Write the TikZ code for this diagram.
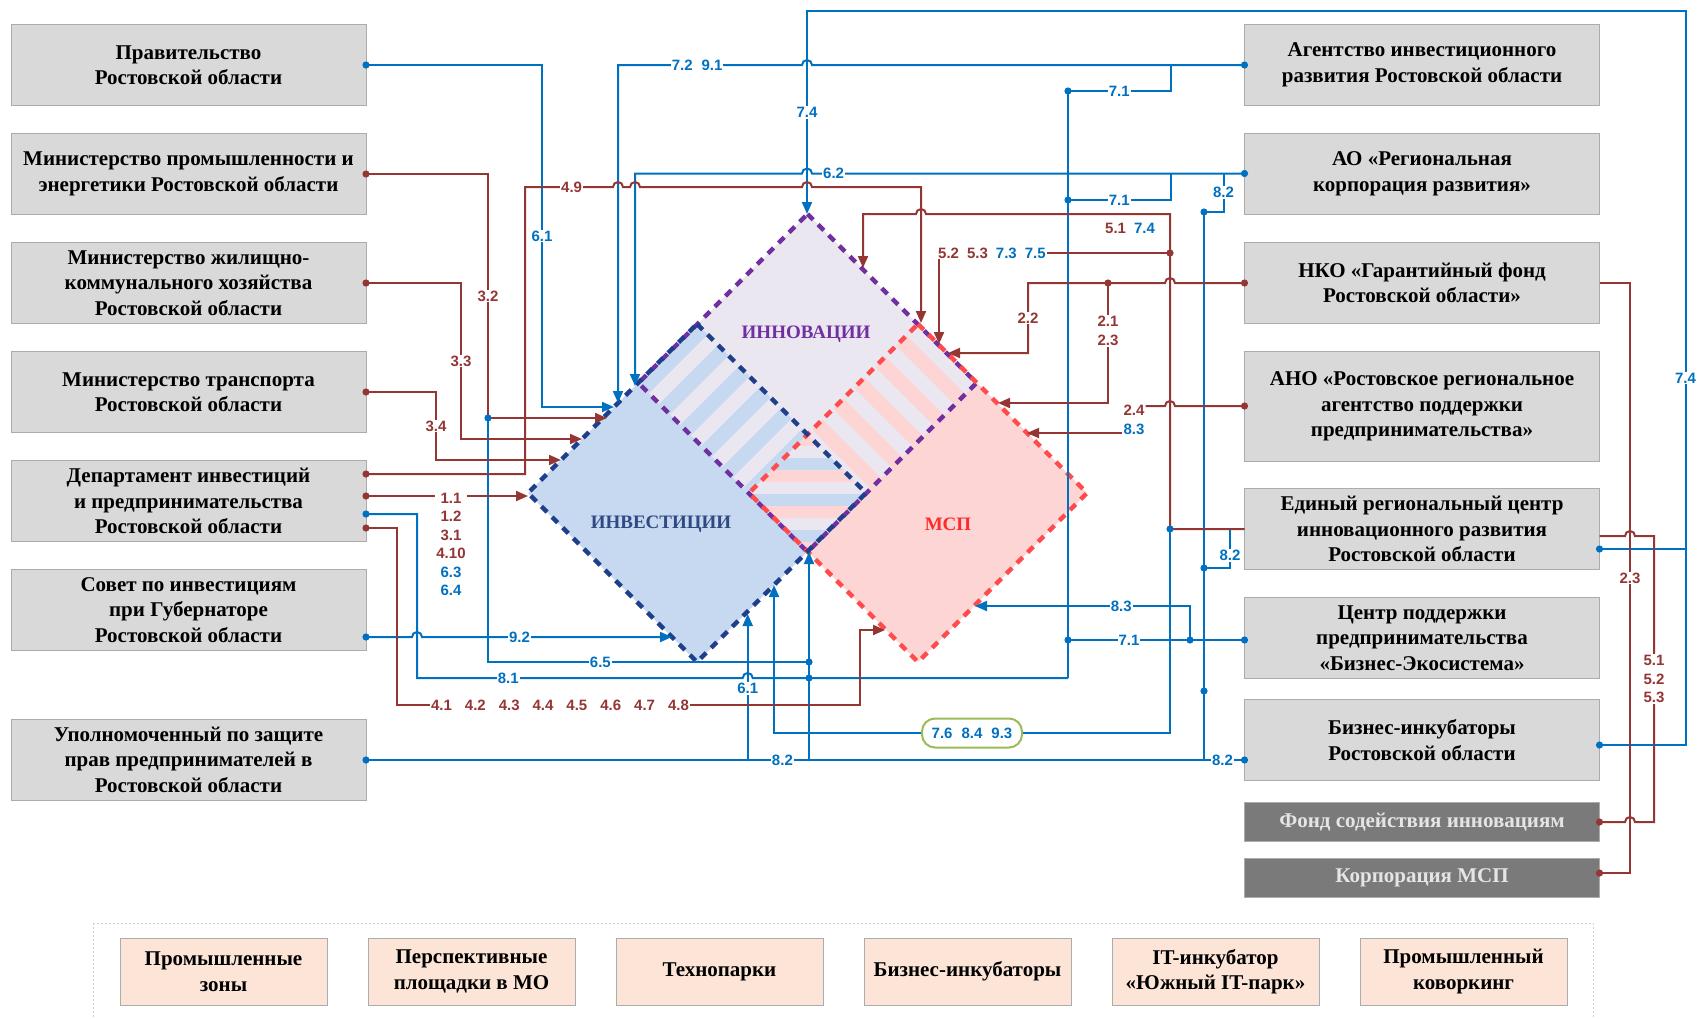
\documentclass[tikz,border=0pt]{standalone}
\usepackage{fontspec}
\setmainfont{Liberation Serif}
\newfontfamily\numfont{Liberation Sans}
\usetikzlibrary{positioning,calc,arrows.meta}

\definecolor{boxgray}{HTML}{D9D9D9}
\definecolor{darkgray}{HTML}{7A7A7A}
\definecolor{peach}{HTML}{FCE4D6}
\definecolor{lnblue}{HTML}{0070C0}
\definecolor{lnbrown}{HTML}{943634}
\definecolor{invfill}{HTML}{C6D9F1}
\definecolor{innfill}{HTML}{EBE7F1}
\definecolor{mspfill}{HTML}{FDD5D5}
\definecolor{invline}{HTML}{1F3F8C}
\definecolor{innline}{HTML}{7030A0}
\definecolor{mspline}{HTML}{FF4B4B}
\definecolor{invtext}{HTML}{2F4A82}
\definecolor{msptext}{HTML}{FF2A2A}
\definecolor{pillgreen}{HTML}{9BBB59}

\begin{document}
\begin{tikzpicture}[
    x=1pt, y=-1pt,
    box/.style={rectangle, draw=gray!65, line width=1pt, outer sep=0pt, fill=boxgray, minimum width=355pt, minimum height=81pt, align=center, inner sep=1pt, font=\fontsize{21}{25.5}\selectfont\bfseries},
    darkbox/.style={box, fill=darkgray, text=white!90!black, minimum height=39pt},
    zone/.style={box, fill=peach, minimum width=207pt, minimum height=67pt},
    field/.style={font=\fontsize{19}{22}\selectfont\bfseries},
    dia/.style={line width=4.5pt, dash pattern=on 8pt off 7pt},
    bl/.style={draw=lnblue, line width=2pt},
    br/.style={draw=lnbrown, line width=2pt},
    arrow/.style={-{Triangle[length=12pt,width=10pt]}},
    num/.style={font=\numfont\bfseries\fontsize{15}{18.4}\selectfont, inner sep=1pt, fill=white, align=center},
    bnum/.style={num, text=lnblue},
    rnum/.style={num, text=lnbrown},
    pill/.style={draw=pillgreen, line width=2pt, rounded corners=13pt, fill=white, minimum width=100pt, minimum height=29pt, inner sep=2pt, text=lnblue, font=\numfont\bfseries\fontsize{15}{18.4}\selectfont}
]
\useasboundingbox (0,0) rectangle (1699,1018);
\fill[white] (0,0) rectangle (1699,1018);

% three fields
\fill[invfill] (697,324) -- (866,493) -- (697,662) -- (528,493) -- cycle;
\fill[mspfill] (918,324) -- (1087,493) -- (918,662) -- (749,493) -- cycle;
\fill[innfill] (807.5,214) -- (976.5,383) -- (807.5,552) -- (638.5,383) -- cycle;

\begin{scope}
  \clip (697,324) -- (866,493) -- (697,662) -- (528,493) -- cycle;
  \clip (807.5,214) -- (976.5,383) -- (807.5,552) -- (638.5,383) -- cycle;
  \foreach \v in {1021,1063,...,1359}
    \fill[invfill] (\v-150,150) -- (\v-129,150) -- (\v-729,750) -- (\v-750,750) -- cycle;
\end{scope}
\begin{scope}
  \clip (918,324) -- (1087,493) -- (918,662) -- (749,493) -- cycle;
  \clip (807.5,214) -- (976.5,383) -- (807.5,552) -- (638.5,383) -- cycle;
  \foreach \u in {256,298,...,594}
    \fill[mspfill] (\u+150,150) -- (\u+171,150) -- (\u+771,750) -- (\u+750,750) -- cycle;
\end{scope}
\begin{scope}
  \clip (697,324) -- (866,493) -- (697,662) -- (528,493) -- cycle;
  \clip (918,324) -- (1087,493) -- (918,662) -- (749,493) -- cycle;
  \fill[innfill] (700,420) rectangle (920,560);
  \foreach \y in {434,470,...,552} {
    \fill[mspfill] (700,\y) rectangle (920,\y+12);
    \fill[invfill] (700,\y+24) rectangle (920,\y+36);
  }
\end{scope}

\draw[innline, dia] (807.5,214) -- (976.5,383) -- (807.5,552) -- (638.5,383) -- cycle;
\draw[mspline, dia] (918,324) -- (1087,493) -- (918,662) -- (749,493) -- cycle;
\draw[invline, dia] (697,324) -- (866,493) -- (697,662) -- (528,493) -- cycle;

\node[field, text=innline] (innlbl) at (806,334) {ИННОВАЦИИ};
\node[field, text=invtext] (invlbl) at (661,524) {ИНВЕСТИЦИИ};
\node[field, text=msptext] (msplbl) at (948,524) {МСП};

% left column
\node[box] (gov) at (188.5,65) {Правительство\\Ростовской области};
\node[box, below=28pt of gov] (minprom) {Министерство промышленности и\\энергетики Ростовской области};
\node[box, below=28pt of minprom] (mingkh) {Министерство жилищно-\\коммунального хозяйства\\Ростовской области};
\node[box, below=28pt of mingkh] (mintrans) {Министерство транспорта\\Ростовской области};
\node[box, below=28pt of mintrans] (depinv) {Департамент инвестиций\\и предпринимательства\\Ростовской области};
\node[box, below=28pt of depinv] (sovet) {Совет по инвестициям\\при Губернаторе\\Ростовской области};
\node[box, below=68.5pt of sovet] (upol) {Уполномоченный по защите\\прав предпринимателей в\\Ростовской области};

% right column
\node[box] (agent) at (1422,65) {Агентство инвестиционного\\развития Ростовской области};
\node[box, below=28pt of agent] (rkr) {АО «Региональная\\корпорация развития»};
\node[box, below=28pt of rkr] (fund) {НКО «Гарантийный фонд\\Ростовской области»};
\node[box, minimum height=110pt, below=28pt of fund] (ano) {АНО «Ростовское региональное\\агентство поддержки\\предпринимательства»};
\node[box, below=27pt of ano] (cir) {Единый региональный центр\\инновационного развития\\Ростовской области};
\node[box, below=28pt of cir] (eco) {Центр поддержки\\предпринимательства\\«Бизнес-Экосистема»};
\node[box, below=21pt of eco] (incub) {Бизнес-инкубаторы\\Ростовской области};
\node[darkbox, below=22pt of incub] (fsi) {Фонд содействия инновациям};
\node[darkbox, below=17pt of fsi] (corp) {Корпорация МСП};

% infrastructure
\draw[gray!35, line width=1pt, dash pattern=on 2pt off 2pt] (93,923) rectangle (1593,1040);
\node[zone] (zone1) at (223.5,971.5) {Промышленные\\зоны};
\node[zone, right=41pt of zone1] (zone2) {Перспективные\\площадки в МО};
\node[zone, right=41pt of zone2] (zone3) {Технопарки};
\node[zone, right=41pt of zone3] (zone4) {Бизнес-инкубаторы};
\node[zone, right=41pt of zone4] (zone5) {IT-инкубатор\\«Южный IT-парк»};
\node[zone, right=41pt of zone5] (zone6) {Промышленный\\коворкинг};

% ports and junctions
\coordinate (pgov) at (gov.east |- 0,65);
\coordinate (pprom) at (minprom.east |- 0,174);
\coordinate (pgkh) at (mingkh.east |- 0,283);
\coordinate (ptrans) at (mintrans.east |- 0,392);
\coordinate (p49) at (depinv.east |- 0,474);
\coordinate (p11) at (depinv.east |- 0,496);
\coordinate (p81) at (depinv.east |- 0,514);
\coordinate (p4x) at (depinv.east |- 0,528);
\coordinate (p92) at (sovet.east |- 0,637);
\coordinate (pupol) at (upol.east |- 0,760);
\coordinate (pagent) at (agent.west |- 0,65);
\coordinate (prkr) at (rkr.west |- 0,173.5);
\coordinate (pfundw) at (fund.west |- 0,283);
\coordinate (pfunde) at (fund.east |- 0,283);
\coordinate (pano) at (ano.west |- 0,406);
\coordinate (pcir) at (cir.west |- 0,529);
\coordinate (p5r) at (cir.east |- 0,536);
\coordinate (p5b) at (cir.east |- 0,549);
\coordinate (p71) at (eco.west |- 0,640);
\coordinate (p74) at (incub.east |- 0,745);
\coordinate (p82) at (incub.west |- 0,760);
\coordinate (pfsi) at (fsi.east |- 0,822);
\coordinate (pcorp) at (corp.east |- 0,873);
\coordinate (j1) at (1068,91);
\coordinate (j2) at (1068,200);
\coordinate (j3) at (1204,212);
\coordinate (j4) at (1204,568);
\coordinate (j5) at (1068,678);
\coordinate (j6) at (1190,640);
\coordinate (j7) at (1068,640);
\coordinate (j8) at (488,418);
\coordinate (j9) at (809,662);
\coordinate (j10) at (1170,529);
\coordinate (j11) at (1170,253);
\coordinate (j12) at (1108,283);
\coordinate (j13) at (1204,691);
\coordinate (j14) at (809,678);

% blue links
\draw[bl,arrow] (pgov) -- (542,65) -- node[bnum] (l61a) {6.1} (542,407) -- (614,407);
\draw[bl,arrow] (pagent) -- (812,65) arc[start angle=0,end angle=180,radius=5pt] -- node[bnum,pos=0.57] (l72) {7.2\hspace{9pt}9.1} (618,65) -- (618,403);
\draw[bl,arrow] (p74) -- (1685.5,745) -- node[bnum] (l74a) {7.4} (1685.5,11) -- (807,11) -- node[bnum] (l74b) {7.4} (807,214);
\draw[bl] (p5b) -- (1685.5,549);
\draw[bl,arrow] (prkr) -- node[bnum,pos=0.95] (l62) {6.2} (812,173.5) arc[start angle=0,end angle=180,radius=5pt] -- (635,173.5) -- (635,386);
\draw[bl] (1170.5,65) -- (1170.5,91) -- node[bnum] (l71a) {7.1} (j1);
\draw[bl] (1170.5,173.5) -- (1170.5,200) -- node[bnum] (l71b) {7.1} (j2);
\draw[bl] (1223.5,173.5) -- node[bnum] (l82a) {8.2} (1223.5,212) -- (j3);
\draw[bl] (j1) -- (j5);
\draw[bl] (j3) -- (1204,760);
\draw[bl] (1230,529) -- node[bnum,pos=0.68] (l82b) {8.2} (1230,568) -- (j4);
\draw[bl] (p71) -- (j6) -- node[bnum] (l71c) {7.1} (j7);
\draw[bl,arrow] (j6) -- (1190,606) -- node[bnum,pos=0.32] (l83a) {8.3} (975,606);
\draw[bl] (p81) -- (417,514) -- (417,678) -- node[bnum,pos=0.28] (l81) {8.1} (742.7,678) arc[start angle=180,end angle=0,radius=5pt] -- (j5);
\draw[bl,arrow] (p92) -- (412,637) arc[start angle=180,end angle=0,radius=5pt] -- node[bnum,pos=0.39] (l92) {9.2} (672,637);
\draw[bl] (j8) -- (488,662) -- node[bnum,pos=0.35] (l65) {6.5} (j9);
\draw[bl] (pupol) -- node[bnum,pos=0.474] (l82c) {8.2} node[bnum,pos=0.975] (l82d) {8.2} (p82);
\draw[bl,arrow] (747.7,760) -- node[bnum,pos=0.49] (l61b) {6.1} (747.7,614);
\draw[bl,arrow] (809,760) -- (809,552);
\draw[bl,arrow] (j10) -- (1170,733) -- node[pill] (l76) {7.6\hspace{9pt}8.4\hspace{9pt}9.3} (774,733) -- (774,585);

% brown links
\draw[br,arrow] (pprom) -- (488,174) -- node[rnum] (l32) {3.2} (j8) -- (607,418);
\draw[br,arrow] (pgkh) -- (461,283) -- node[rnum] (l33) {3.3} (461,439) -- (582,439);
\draw[br,arrow] (ptrans) -- (436,392) -- node[rnum] (l34) {3.4} (436,460) -- (561,460);
\draw[br,arrow] (p49) -- (525,474) -- (525,187) -- node[rnum,pos=0.53] (l49) {4.9} (613,187)
    arc[start angle=180,end angle=0,radius=5pt] -- (630,187)
    arc[start angle=180,end angle=0,radius=5pt] -- (802,187)
    arc[start angle=180,end angle=0,radius=5pt] -- (921,187) -- (921,323);
\draw[br,arrow] (p11) -- (528,496);
\node[rnum, anchor=north] (l11) at (451,492) {1.1\\1.2\\3.1\\4.10\\\textcolor{lnblue}{6.3}\\\textcolor{lnblue}{6.4}};
\draw[br,arrow] (p4x) -- (397,528) -- (397,705) -- node[rnum,pos=0.352] (l41) {4.1\hspace{13pt}4.2\hspace{13pt}4.3\hspace{13pt}4.4\hspace{13pt}4.5\hspace{13pt}4.6\hspace{13pt}4.7\hspace{13pt}4.8} (860,705) -- (860,630) -- (885,630);
\draw[br,arrow] (pcir) -- (j10) -- (1170,214) -- (926,214) arc[start angle=0,end angle=180,radius=5pt] -- (863,214) -- (863,268);
\node[num, fill=none] (l51) at (1130,228) {\textcolor{lnbrown}{5.1}\hspace{8pt}\textcolor{lnblue}{7.4}};
\draw[br,arrow] (j11) -- (939,253) -- (939,344);
\node[num, anchor=west] (l52) at (937,253) {\textcolor{lnbrown}{5.2}\hspace{8pt}\textcolor{lnbrown}{5.3}\hspace{8pt}\textcolor{lnblue}{7.3}\hspace{8pt}\textcolor{lnblue}{7.5}};
\draw[br,arrow] (pfundw) -- (1175,283) arc[start angle=0,end angle=180,radius=5pt] -- (1028,283) -- node[rnum] (l22) {2.2} (1028,353) -- (948,353);
\draw[br,arrow] (j12) -- node[rnum,pos=0.4] (l21) {2.1\\2.3} (1108,403) -- (998,403);
\node[num, fill=none] (l24) at (1134,420) {\textcolor{lnbrown}{2.4}\\\textcolor{lnblue}{8.3}};
\draw[br] (pano) -- (1175,406) arc[start angle=0,end angle=180,radius=5pt] -- (l24.east |- 0,406);
\draw[br,arrow] (l24.west |- 0,433) -- (1027,433);
\draw[br] (pfunde) -- (1630,283) -- node[rnum] (l23) {2.3} (1630,873) -- (pcorp);
\draw[br] (p5r) -- (1625,536) arc[start angle=180,end angle=0,radius=5pt] -- (1654,536) -- node[rnum] (l53) {5.1\\5.2\\5.3} (1654,822) -- (1635,822) arc[start angle=0,end angle=180,radius=5pt] -- (pfsi);

% dots
\foreach \p in {pprom, pgkh, ptrans, p49, p11, p4x, pfundw, j12, j11, pano, pcorp, pfsi}
  \fill[lnbrown] (\p) circle[radius=3.6pt];
\foreach \p in {pgov, pagent, prkr, p71, p82, p74, p5b, p81, p92, pupol, j1, j2, j3, j4, j6, j7, j8, j9, j10, j13, j14}
  \fill[lnblue] (\p) circle[radius=3.6pt];
\end{tikzpicture}
\end{document}
